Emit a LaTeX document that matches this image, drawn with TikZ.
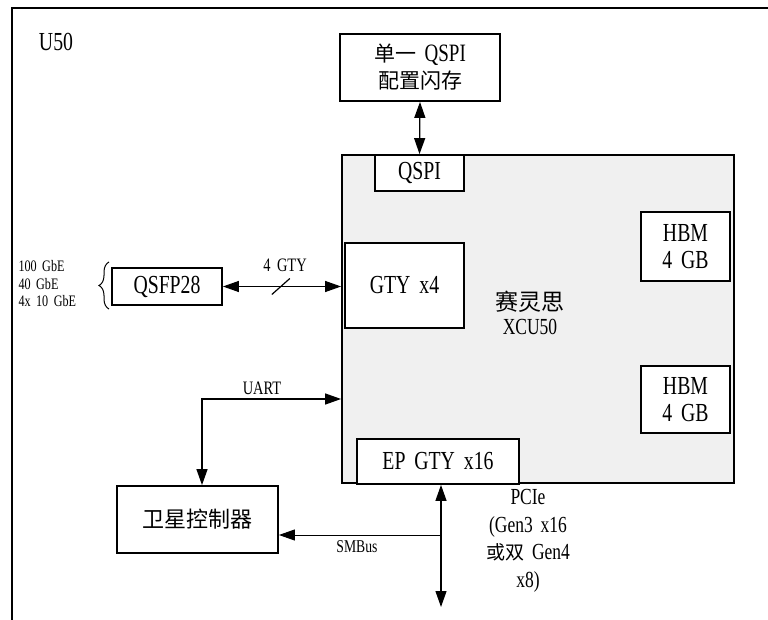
\documentclass[tikz,border=0pt]{standalone}
\usepackage{fontspec}
\setmainfont{Liberation Serif}[FakeStretch=0.76,WordSpace=1.8]
\newfontfamily\cjkfont{Noto Sans CJK SC}
\usetikzlibrary{arrows.meta,decorations.pathreplacing,calc}
\definecolor{chipgray}{RGB}{240,240,240}
\begin{document}
\begin{tikzpicture}[x=1pt,y=-1pt,
  box/.style={draw,line width=1.8pt,fill=white,inner sep=0pt,align=center},
  big/.style={font=\fontsize{26}{27}\selectfont},
  mid/.style={font=\fontsize{25}{27}\selectfont},
  small/.style={font=\fontsize{19}{20}\selectfont},
  tiny/.style={font=\fontsize{16}{17.5}\selectfont},
  conn/.style={line width=1.2pt},
  tip/.tip={Triangle[length=16pt,width=11pt]}
]
\useasboundingbox (0,0) rectangle (768,620);
% outer frame (top and left only)
\draw[line width=2pt] (12,621) -- (12,8) -- (769,8);
\node[big] (u50) at (56,42) {U50};

% flash
\node[box,mid,minimum width=160pt,minimum height=67pt] (flash) at (420,67.5)
  {{\cjkfont\fontsize{21}{27}\selectfont 单一} QSPI\\{\cjkfont\fontsize{21}{27}\selectfont 配置闪存}};

% chip
\node[draw,line width=1.8pt,fill=chipgray,minimum width=392pt,minimum height=328pt,inner sep=0pt] (chip) at (538,319) {};
\node[box,big,minimum width=89pt,minimum height=36pt] (qspi) at (419.5,173) {QSPI};
\node[box,big,minimum width=119pt,minimum height=85pt] (gty) at (404.5,285.5) {GTY x4};
\node[box,big,minimum width=89pt,minimum height=69pt] (hbm1) at (685.5,246.5) {HBM\\4 GB};
\node[box,big,minimum width=89pt,minimum height=67pt] (hbm2) at (685.5,399.5) {HBM\\4 GB};
\node[box,big,minimum width=162pt,minimum height=45pt] (ep) at (438,461.5) {EP GTY x16};
\node[align=center,font=\fontsize{23}{24}\selectfont] (chiplbl) at (530,313) {{\cjkfont 赛灵思}\\XCU50};

% QSFP
\node[box,big,minimum width=110pt,minimum height=37pt] (qsfp) at (167,286.5) {QSFP28};
\node[tiny,align=left,anchor=west] (rates) at (15,284) {100 GbE\\40 GbE\\4x 10 GbE};
\draw[line width=1pt,decorate,decoration={brace,amplitude=10pt}] (109,309) -- (109,262);

% controller
\node[box,minimum width=161pt,minimum height=67pt,font=\cjkfont\fontsize{22}{24}\selectfont] (ctrl) at (197.5,519.5) {卫星控制器};

% connectors
\draw[conn,{tip}-{tip}] (flash.south) -- (qspi.north);
\draw[conn,{tip}-{tip}] (qsfp.east) -- (qsfp.east -| chip.west)
  coordinate[pos=0.49] (sl);
\draw[conn] ($(sl)+(-9,8)$) -- ($(sl)+(9,-8)$);
\node[small] (gtylbl) at (285,265) {4 GTY};

\draw[conn,{tip}-{tip}] ([xshift=4.5pt]ctrl.north) |- ([yshift=-80pt]chip.west);
\node[small] (uartlbl) at (262,388) {UART};

\coordinate (pcieend) at (441,607);
\coordinate (smb) at (441,535);
\draw[conn,{tip}-{tip}] ([xshift=3pt]ep.south) -- (pcieend);
\draw[line width=1pt,-{tip}] (smb) -- (smb -| ctrl.east);
\node[font=\fontsize{18}{18}\selectfont] (smblbl) at (357,547) {SMBus};
\node[align=center,font=\fontsize{23}{27.5}\selectfont] (pcielbl) at (528,541)
  {PCIe\\(Gen3 x16\\{\cjkfont\fontsize{19}{27.5}\selectfont 或双} Gen4\\x8)};
\end{tikzpicture}
\end{document}
